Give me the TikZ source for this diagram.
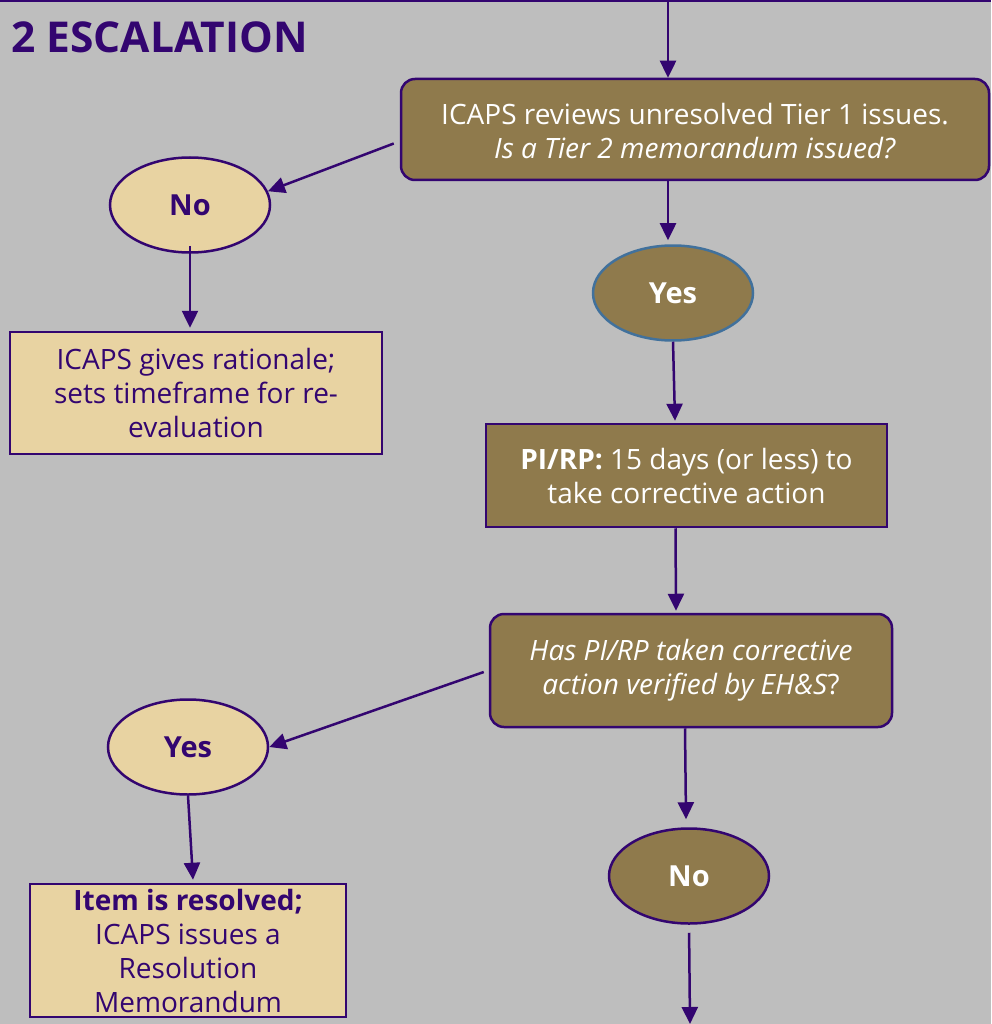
\documentclass[tikz,border=0pt]{standalone}
\usepackage{fontspec}
\setmainfont{Open Sans}
\usetikzlibrary{arrows.meta,shapes.geometric,calc}
\definecolor{bg}{HTML}{BEBEBE}
\definecolor{brn}{HTML}{8F7A4C}
\definecolor{tanc}{HTML}{E8D3A2}
\definecolor{pur}{HTML}{330570}
\definecolor{blu}{HTML}{41719C}
\begin{document}
\begin{tikzpicture}[x=1pt,y=-1pt,
  txt/.style={font=\fontsize{28}{34}\selectfont, align=center, inner sep=0pt},
  dbox/.style={txt, draw=pur, line width=2.5pt, fill=brn, text=white, rounded corners=14pt},
  sbox/.style={txt, draw=pur, line width=2.5pt, fill=brn, text=white},
  lbox/.style={txt, draw=pur, line width=2.5pt, fill=tanc, text=pur},
  dell/.style={ellipse, draw=pur, line width=2.5pt, fill=brn, text=white, minimum width=160pt, minimum height=95pt, inner sep=0pt, font=\fontsize{29}{34}\selectfont\bfseries},
  lell/.style={dell, fill=tanc, text=pur},
  arr/.style={draw=pur, line width=2.5pt, -{Triangle[width=16pt,length=17pt]}},
]
\fill[bg] (0,0) rectangle (991,1024);
\useasboundingbox (0,0) rectangle (991,1024);
\draw[pur, line width=2pt] (0,1) -- (991,1);
\node[anchor=base west, text=pur, font=\fontsize{42.5}{50}\selectfont\bfseries, inner sep=0pt] (title) at (11,53) {2 ESCALATION};

\node[dbox, minimum width=588pt, minimum height=101pt] (q1) at (695,129.5) {\strut ICAPS reviews unresolved Tier 1 issues.\\ \textit{Is a Tier 2 memorandum issued?}};
\node[lell] (no1) at (190,205) {No};
\node[lbox, minimum width=372pt, minimum height=122pt] (b2) at (196,393) {ICAPS gives rationale;\\ sets timeframe for re-\\ evaluation};
\node[dell, draw=blu] (yes1) at (673,293) {Yes};
\node[sbox, minimum width=401pt, minimum height=103pt] (b3) at (686.5,475.5) {\textbf{PI/RP:} 15 days (or less) to\\ take corrective action};
\node[dbox, minimum width=402pt, minimum height=113pt] (q2) at (691,670.5) {\textit{Has PI/RP taken corrective}\\ \textit{action verified by EH\&S}?};
\node[lell] (yes2) at (188,747) {Yes};
\node[lbox, minimum width=316pt, minimum height=133pt] (b5) at (188,950.5) {\textbf{Item is resolved;}\\ ICAPS issues a\\ Resolution\\ Memorandum};
\node[dell] (no2) at (689,876) {No};

\coordinate (top) at (668,0);
\coordinate (bot) at (690,1024);
\draw[arr] (top) -- (top |- q1.north);
\draw[arr] ($(q1.west)+(-6,14)$) -- (no1.10);
\draw[arr] ($(no1.south)+(0,-8)$) -- ($(no1.south |- b2.north)+(0,-3)$);
\draw[arr] (q1.south -| top) -- ($(top |- yes1.north)+(0,-4)$);
\draw[arr] (yes1.south) -- ($(yes1.south |- b3.north)+(2,-2)$);
\draw[arr] ($(b3.south)+(-11,0)$) -- ($(q2.north)+(-15,-2)$);
\draw[arr] ($(q2.west)+(-5,1.5)$) -- (yes2.east);
\draw[arr] (yes2.south) -- ($(b5.north)+(5,-3)$);
\draw[arr] ($(q2.south)+(-6,0)$) -- ($(no2.north)+(-3,-8)$);
\draw[arr, shorten <=8pt] (no2.south) -- (bot);
\end{tikzpicture}
\end{document}
